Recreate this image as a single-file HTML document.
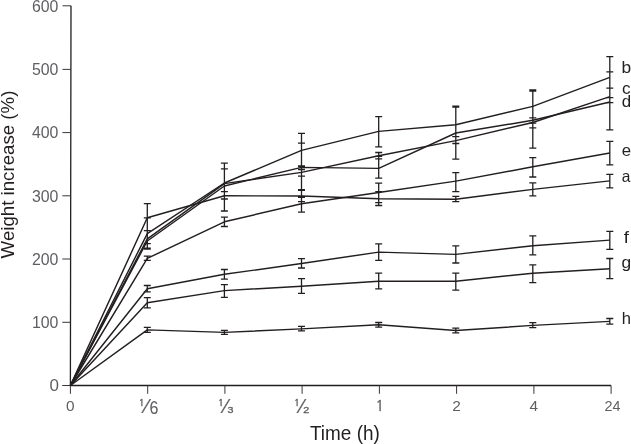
<!DOCTYPE html>
<html><head><meta charset="utf-8"><title>Weight increase vs time</title>
<style>
html,body{margin:0;padding:0;background:#fff;}
svg{display:block;}
text{font-family:"Liberation Sans",Arial,Helvetica,sans-serif;}
text.n{font-family:"NanumGothic","Liberation Sans",sans-serif;}
</style></head><body>
<svg width="631" height="444" viewBox="0 0 631 444">
<rect width="631" height="444" fill="#fff"/>
<g stroke="#231f20" stroke-width="1.3" fill="none">
<path d="M71.0 5.8L70.4 385.5H611.1"/>
<path d="M62.20 385.5H70.40M62.25 322.3H70.50M62.30 259.0H70.60M62.35 195.8H70.70M62.40 132.6H70.80M62.45 69.4H70.90M62.50 5.8H71.00M70.4 385.5V393.8M147.7 385.5V393.8M224.9 385.5V393.8M302.1 385.5V393.8M379.4 385.5V393.8M456.6 385.5V393.8M533.9 385.5V393.8M611.1 385.5V393.8" stroke-width="1.0" stroke="#3a3638"/>
</g>
<g stroke="#231f20" stroke-width="1.45" fill="none" stroke-linejoin="round">
<path d="M70.4 385.5L147.3 217.8L224.4 195.8L301.5 196.0L378.7 198.8L455.8 199.2L532.8 189.4L609.8 180.9"/>
<path d="M70.4 385.5L147.3 233.6L224.4 183.0L301.5 150.4L378.7 131.4L455.8 124.8L532.8 106.4L609.8 77.4"/>
<path d="M70.4 385.5L147.3 238.8L224.4 183.6L301.5 172.4L378.7 155.7L455.8 140.6L532.8 122.5L609.8 96.6"/>
<path d="M70.4 385.5L147.3 241.0L224.4 186.0L301.5 167.4L378.7 168.4L455.8 133.0L532.8 120.3L609.8 102.0"/>
<path d="M70.4 385.5L147.3 258.4L224.4 221.8L301.5 203.7L378.7 192.5L455.8 181.1L532.8 166.8L609.8 153.0"/>
<path d="M70.4 385.5L147.3 288.8L224.4 274.3L301.5 263.5L378.7 252.1L455.8 254.4L532.8 245.8L609.8 240.1"/>
<path d="M70.4 385.5L147.3 302.7L224.4 290.6L301.5 286.3L378.7 281.2L455.8 281.3L532.8 273.2L609.8 268.7"/>
<path d="M70.4 385.5L147.3 329.9L224.4 332.4L301.5 328.9L378.7 324.8L455.8 330.5L532.8 325.4L609.8 321.4"/>
</g>
<g stroke="#231f20" stroke-width="1.3" fill="none">
<path d="M147.3 203.7V248.6M143.8 203.7H150.8M143.8 217.8H150.8M143.8 230.6H150.8M143.8 243.6H150.8M143.8 248.2H150.8M143.8 249.0H150.8M147.3 256.2V260.4M143.8 256.2H150.8M143.8 260.4H150.8M147.3 285.5V291.8M143.8 285.5H150.8M143.8 291.8H150.8M147.3 297.7V307.8M143.8 297.7H150.8M143.8 307.8H150.8M147.3 327.3V332.4M143.8 327.3H150.8M143.8 332.4H150.8"/>
<path d="M224.4 163.1V211.0M220.9 163.1H227.9M220.9 168.8H227.9M220.9 191.7H227.9M220.9 199.0H227.9M220.9 211.0H227.9M224.4 217.1V226.5M220.9 217.1H227.9M220.9 226.5H227.9M224.4 269.5V279.2M220.9 269.5H227.9M220.9 279.2H227.9M224.4 284.7V297.4M220.9 284.7H227.9M220.9 297.4H227.9M224.4 330.4V334.4M220.9 330.4H227.9M220.9 334.4H227.9"/>
<path d="M301.5 133.3V212.2M298.0 133.3H305.0M298.0 143.2H305.0M298.0 165.8H305.0M298.0 166.6H305.0M298.0 169.5H305.0M298.0 176.2H305.0M298.0 189.6H305.0M298.0 190.4H305.0M298.0 196.6H305.0M298.0 197.4H305.0M298.0 201.6H305.0M298.0 212.2H305.0M301.5 258.7V268.0M298.0 258.7H305.0M298.0 268.0H305.0M301.5 278.7V293.4M298.0 278.7H305.0M298.0 293.4H305.0M301.5 326.3V330.9M298.0 326.3H305.0M298.0 330.9H305.0"/>
<path d="M378.7 116.7V146.8M375.2 116.7H382.2M375.2 146.8H382.2M378.7 152.5V178.1M375.2 152.5H382.2M375.2 156.3H382.2M375.2 158.9H382.2M375.2 178.1H382.2M378.7 183.2V205.5M375.2 183.2H382.2M375.2 191.6H382.2M375.2 202.6H382.2M375.2 205.5H382.2M378.7 243.9V260.4M375.2 243.9H382.2M375.2 260.4H382.2M378.7 273.1V288.8M375.2 273.1H382.2M375.2 288.8H382.2M378.7 322.5V327.1M375.2 322.5H382.2M375.2 327.1H382.2"/>
<path d="M455.8 106.4V159.1M452.3 106.2H459.3M452.3 107.2H459.3M452.3 136.6H459.3M452.3 143.5H459.3M452.3 159.1H459.3M455.8 172.6V191.6M452.3 172.6H459.3M452.3 191.6H459.3M455.8 196.3V201.7M452.3 196.3H459.3M452.3 201.7H459.3M455.8 245.8V263.0M452.3 245.8H459.3M452.3 263.0H459.3M455.8 273.2V290.2M452.3 273.2H459.3M452.3 290.2H459.3M455.8 328.2V332.8M452.3 328.2H459.3M452.3 332.8H459.3"/>
<path d="M532.8 90.0V148.1M529.3 89.9H536.3M529.3 91.0H536.3M529.3 117.8H536.3M529.3 123.1H536.3M529.3 127.9H536.3M529.3 148.1H536.3M532.8 157.6V177.0M529.3 157.6H536.3M529.3 177.0H536.3M532.8 182.8V195.8M529.3 182.8H536.3M529.3 195.8H536.3M532.8 235.9V254.9M529.3 235.9H536.3M529.3 254.9H536.3M532.8 264.8V282.6M529.3 264.8H536.3M529.3 282.6H536.3M532.8 322.6V327.7M529.3 322.6H536.3M529.3 327.7H536.3"/>
<path d="M609.8 56.7V129.8M606.3 56.7H613.3M606.3 71.9H613.3M606.3 88.2H613.3M606.3 97.7H613.3M606.3 102.6H613.3M606.3 129.8H613.3M609.8 141.3V164.9M606.3 141.3H613.3M606.3 164.9H613.3M609.8 174.3V187.8M606.3 174.3H613.3M606.3 187.8H613.3M609.8 231.4V249.4M606.3 231.4H613.3M606.3 249.4H613.3M609.8 258.5V278.6M606.3 258.5H613.3M606.3 278.6H613.3M609.8 318.5V324.1M606.3 318.5H613.3M606.3 324.1H613.3"/>
</g>
<g fill="#5e5f62" font-size="17" text-anchor="end">
<text x="59.0" y="391.3">0</text>
<text x="58.4" y="328.1" textLength="26.5" lengthAdjust="spacingAndGlyphs">100</text>
<text x="58.4" y="264.8" textLength="26.5" lengthAdjust="spacingAndGlyphs">200</text>
<text x="58.4" y="201.6" textLength="26.5" lengthAdjust="spacingAndGlyphs">300</text>
<text x="58.4" y="138.4" textLength="26.5" lengthAdjust="spacingAndGlyphs">400</text>
<text x="58.4" y="75.2" textLength="26.5" lengthAdjust="spacingAndGlyphs">500</text>
<text x="58.4" y="11.9" textLength="26.5" lengthAdjust="spacingAndGlyphs">600</text>
</g>
<g fill="#5e5f62" font-size="15.4" text-anchor="middle">
<text x="70.4" y="411.2">0</text>
<text x="379.7" y="411.1" class="n" font-size="13.9" stroke="#5e5f62" stroke-width="0.4">1</text>
<text x="456.6" y="411.2">2</text>
<text x="533.9" y="411.2">4</text>
<text x="612.4" y="411.2" textLength="16.0" lengthAdjust="spacingAndGlyphs">24</text>
</g>
<g fill="#5e5f62" stroke="#5e5f62" stroke-width="0.3"><text x="139.1" y="405.7" font-size="8.6" class="n" stroke-width="0.45">1</text><text x="145.3" y="413" font-size="19.5" stroke-width="0.2">⁄</text><text x="149.6" y="414" font-size="19" stroke-width="0.1" textLength="8.9" lengthAdjust="spacingAndGlyphs">6</text></g>
<g fill="#5e5f62" stroke="#5e5f62" stroke-width="0.3"><text x="218.3" y="405.7" font-size="8.6" class="n" stroke-width="0.45">1</text><text x="224.6" y="413" font-size="19.5" stroke-width="0.2">⁄</text><text x="227.5" y="412.9" font-size="8.2" textLength="6.0" lengthAdjust="spacingAndGlyphs">3</text></g>
<g fill="#5e5f62" stroke="#5e5f62" stroke-width="0.3"><text x="294.2" y="405.7" font-size="8.6" class="n" stroke-width="0.45">1</text><text x="300.4" y="413" font-size="19.5" stroke-width="0.2">⁄</text><text x="303.2" y="412.9" font-size="8.2" textLength="6.0" lengthAdjust="spacingAndGlyphs">2</text></g>
<text x="310.0" y="439.8" font-size="19.8" fill="#231f20" textLength="69.8" lengthAdjust="spacingAndGlyphs">Time (h)</text>
<text transform="translate(13.8 258.4) rotate(-90)" font-size="19" fill="#231f20" textLength="167.8" lengthAdjust="spacingAndGlyphs">Weight increase (%)</text>
<g fill="#231f20" font-size="16.5">
<text x="621.64" y="181.91" textLength="8.66" lengthAdjust="spacingAndGlyphs">a</text>
<text x="621.58" y="72.55" textLength="9.65" lengthAdjust="spacingAndGlyphs">b</text>
<text x="621.97" y="93.61" textLength="8.58" lengthAdjust="spacingAndGlyphs">c</text>
<text x="621.69" y="107.10" textLength="9.40" lengthAdjust="spacingAndGlyphs">d</text>
<text x="621.68" y="155.76" textLength="9.36" lengthAdjust="spacingAndGlyphs">e</text>
<text x="623.74" y="242.97" textLength="5.13" lengthAdjust="spacingAndGlyphs">f</text>
<text x="621.57" y="268.32" textLength="9.65" lengthAdjust="spacingAndGlyphs">g</text>
<text x="621.75" y="324.03" textLength="9.23" lengthAdjust="spacingAndGlyphs">h</text>
</g>
</svg>
</body></html>
